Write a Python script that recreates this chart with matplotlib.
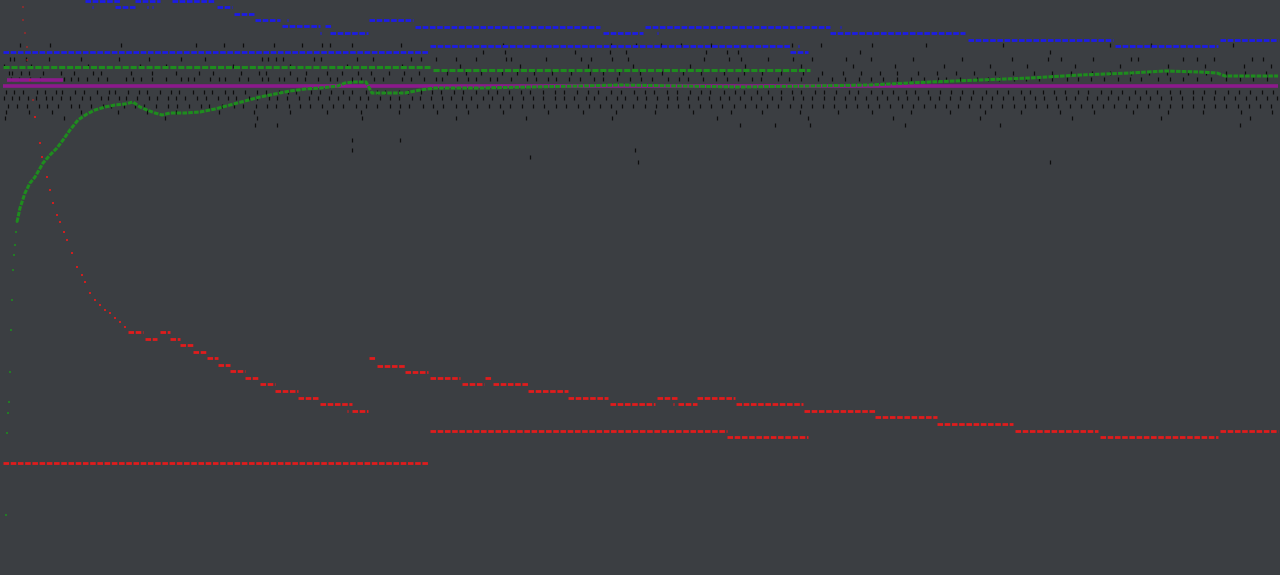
import numpy as np
import matplotlib
matplotlib.use('Agg')
import matplotlib.pyplot as plt

# x = training step (0..1280), y = row position of the metric (0 = top)

# Run B, blue step series: start, end, level
blue_b_start = [85, 135, 172, 92, 115, 147, 152, 217, 234, 255, 287, 282, 325, 320, 330, 369, 415, 603, 657, 645, 840,
                830, 968, 1115, 1220]
blue_b_end = [120, 160, 215, 93, 135, 148, 153, 232, 255, 280, 288, 320, 332, 321, 368, 413, 600, 643, 658, 830, 841,
              965, 1113, 1218, 1278]
blue_b_level = [1, 1, 1, 7, 7, 7, 7, 7, 14, 20, 20, 26, 26, 33, 33, 20, 27, 33, 33, 27, 27, 33, 40, 46, 40]

# Run A, blue steps
blue_a_start = [3, 430, 798, 790]
blue_a_end = [428, 790, 799, 808]
blue_a_level = [52, 46, 46, 52]

# Run A, green and red (flat)
green_a_start = [3, 433]
green_a_end = [430, 810]
green_a_level = [67, 70]

red_a_start = [3, 430, 727]
red_a_end = [428, 727, 808]
red_a_level = [463, 431, 437]

# Purple
purple_start = [3, 7]
purple_end = [1278, 63]
purple_level = [86, 80]

# Run B, green: first sparse points, then the curve
green_b_early_x = [6, 7, 8, 9, 10, 11, 12, 13, 14, 15, 16, 17]
green_b_early_y = [515, 433, 413, 402, 372, 330, 300, 270, 255, 245, 232, 222]

green_b_x = [17, 20, 25, 30, 35, 43, 50, 57, 63, 70, 78, 87, 95, 105, 115, 125, 133, 140, 147, 155, 162,
             170, 185, 200, 215, 230, 245, 260, 275, 290, 305, 320, 338, 345, 355, 366, 372, 390, 405, 420, 435, 480,
             530, 580, 620, 680, 740, 810, 870, 930, 980, 1030, 1080, 1130, 1165, 1200, 1217, 1225, 1278]
green_b_y = [222, 208, 193, 183, 177, 163, 155, 148, 140, 130, 120, 114, 110, 107, 105, 104, 102, 107,
             110, 113, 115, 113, 113, 112, 109, 105, 101, 97, 94, 91, 89, 88, 86, 83, 82, 82, 93, 93, 93, 90, 88, 88,
             87, 86, 85, 86, 87, 86, 85, 82, 80, 78, 75, 73, 71, 72, 73, 76, 76]

# Run B, red curve: faint first points, then the decay, then steps
red_b_faint_x = [23, 23, 25, 27, 27, 30, 33]
red_b_faint_y = [7, 20, 33, 47, 60, 80, 100]

red_b_x = [35, 40, 42, 47, 50, 53, 57, 60, 64, 67, 72, 77, 82, 85, 90, 95, 100, 105, 110, 115, 120, 125]
red_b_y = [117, 143, 157, 177, 190, 203, 215, 222, 232, 240, 253, 267, 275, 282, 293, 300, 305, 310, 313, 318, 322,
           327]

red_b_start = [128, 145, 160, 170, 180, 193, 207, 218, 230, 245, 260, 275, 298, 320, 347, 352, 369, 377, 405, 430, 462,
               485, 493, 528, 568, 610, 657, 673, 678, 697, 736, 804, 875, 937, 1015, 1100, 1220]
red_b_end = [143, 157, 170, 180, 193, 207, 218, 230, 245, 258, 275, 298, 318, 352, 348, 368, 376, 405, 428, 460, 484,
             492, 528, 568, 608, 655, 677, 674, 697, 735, 803, 875, 937, 1013, 1098, 1218, 1278]
red_b_level = [332, 339, 332, 339, 345, 352, 358, 365, 371, 378, 384, 391, 398, 404, 411, 411, 358, 366, 372, 378, 384,
               378, 384, 391, 398, 404, 398, 404, 404, 398, 404, 411, 417, 424, 431, 437, 431]

# Event ticks, one list per row
tick_rows = {
    45: [20, 50, 121, 196, 224, 243, 274, 302, 322, 330, 352, 401, 503, 611, 636, 661, 681, 711, 792, 821, 872, 926,
         1003, 1110, 1151, 1233],
    52: [483, 505, 575, 610, 626, 706, 727, 738, 860, 1050],
    59: [10, 14, 26, 49, 81, 119, 149, 181, 205, 262, 268, 276, 283, 314, 321, 357, 373, 411, 421, 436, 456, 476, 506,
         511, 546, 581, 591, 612, 628, 704, 729, 741, 768, 793, 812, 846, 871, 913, 962, 1012, 1048, 1061, 1093, 1131,
         1138, 1183, 1197, 1214, 1252, 1263],
    66: [4, 31, 88, 140, 166, 233, 290, 347, 402, 460, 520, 588, 633, 690, 745, 801, 853, 895, 944, 990, 1027, 1075,
         1120, 1168, 1205, 1244, 1271],
    73: [9, 12, 21, 29, 43, 61, 74, 93, 101, 131, 152, 176, 199, 213, 241, 259, 266, 290, 306, 327, 342, 358, 371, 389,
         404, 419, 447, 466, 481, 502, 517, 534, 552, 571, 590, 603, 619, 640, 662, 683, 701, 724, 744, 762, 781, 803,
         822, 843, 861, 880, 897, 918, 937, 956, 974, 995, 1013, 1034, 1052, 1071, 1092, 1110, 1131, 1149, 1167, 1188,
         1206, 1226, 1245, 1266],
    79: [11, 19, 30, 40, 64, 71, 78, 87, 98, 107, 126, 133, 141, 152, 166, 181, 188, 194, 210, 219, 225, 239, 248, 262,
         268, 279, 284, 297, 305, 318, 330, 337, 352, 361, 374, 383, 402, 411, 424, 436, 442, 457, 468, 476, 490, 497,
         511, 527, 536, 548, 556, 569, 580, 594, 603, 617, 630, 641, 652, 668, 679, 688, 703, 716, 727, 738, 752, 761,
         778, 789, 801, 818, 832, 845, 859, 871, 883, 897, 911, 924, 938, 946, 960, 977, 988, 999, 1014, 1026, 1039,
         1052, 1067, 1078, 1091, 1104, 1118, 1130, 1141, 1158, 1170, 1183, 1197, 1211, 1226, 1240, 1253, 1267],
    92: [6, 14, 23, 37, 45, 56, 62, 75, 84, 97, 109, 115, 128, 139, 147, 160, 171, 179, 193, 204, 212, 225, 233, 245,
         257, 266, 279, 288, 296, 311, 320, 331, 343, 352, 366, 377, 385, 399, 408, 421, 432, 441, 454, 463, 476, 488,
         497, 509, 521, 530, 543, 555, 564, 577, 588, 598, 611, 621, 634, 645, 654, 667, 677, 690, 701, 710, 724, 735,
         744, 757, 768, 781, 792, 801, 815, 824, 836, 849, 858, 871, 882, 893, 906, 915, 928, 940, 951, 962, 973, 986,
         997, 1008, 1021, 1030, 1043, 1054, 1065, 1078, 1088, 1101, 1111, 1122, 1135, 1146, 1157, 1170, 1180, 1193,
         1204, 1215, 1228, 1239, 1250, 1262, 1273],
    98: [4, 12, 19, 28, 36, 46, 52, 61, 70, 82, 90, 101, 108, 119, 126, 137, 149, 157, 168, 176, 185, 197, 206, 218,
         228, 236, 249, 257, 269, 277, 287, 299, 309, 318, 329, 338, 349, 360, 368, 380, 390, 399, 412, 420, 431, 442,
         451, 462, 471, 483, 492, 503, 512, 523, 533, 543, 555, 564, 574, 586, 594, 606, 617, 625, 637, 646, 657, 668,
         677, 688, 698, 709, 720, 729, 740, 751, 761, 772, 781, 793, 803, 812, 824, 834, 845, 855, 866, 877, 887, 898,
         907, 918, 930, 939, 950, 960, 971, 982, 992, 1003, 1013, 1024, 1035, 1044, 1056, 1066, 1075, 1087, 1097, 1108,
         1118, 1129, 1140, 1150, 1161, 1171, 1182, 1193, 1202, 1214, 1224, 1235, 1246, 1256, 1267, 1277],
    106: [8, 17, 27, 39, 47, 58, 71, 79, 91, 103, 111, 124, 135, 144, 156, 168, 177, 189, 201, 209, 222, 234, 243, 256,
          267, 276, 289, 300, 310, 322, 333, 343, 356, 366, 377, 390, 400, 409, 423, 433, 443, 456, 466, 477, 489, 500,
          510, 522, 533, 544, 556, 566, 578, 589, 600, 611, 622, 633, 645, 656, 667, 678, 689, 700, 711, 722, 734, 745,
          756, 767, 778, 790, 801, 812, 823, 834, 846, 857, 868, 879, 890, 902, 913, 924, 935, 946, 958, 969, 980, 991,
          1002, 1014, 1025, 1036, 1047, 1058, 1070, 1081, 1092, 1103, 1114, 1126, 1137, 1148, 1159, 1170, 1182, 1193,
          1204, 1215, 1226, 1238, 1249, 1260, 1271],
    112: [6, 29, 52, 81, 118, 147, 176, 219, 254, 290, 327, 361, 399, 437, 468, 503, 548, 583, 616, 655, 693, 731,
          762, 800, 838, 872, 911, 950, 985, 1021, 1060, 1094, 1133, 1168, 1203, 1241, 1272],
    118: [5, 64, 165, 257, 362, 456, 526, 612, 717, 808, 893, 980, 1072, 1161, 1250],
    125: [255, 277, 740, 775, 810, 905, 1000, 1240],
    140: [400, 352],
    150: [352, 635],
    157: [530],
    162: [638, 1050],
}

bg = '#3b3e42'
blue = '#1c1ce6'
green = '#1e8c1e'
red = '#e01c1c'
purple = '#8c1a8c'
dash = (0, (2.0, 0.6))

dpi = 100
fig = plt.figure(figsize=(1280 / dpi, 575 / dpi), dpi=dpi)
fig.patch.set_facecolor(bg)
ax = fig.add_axes([0, 0, 1, 1])
ax.set_xlim(0, 1280)
ax.set_ylim(575, 0)
ax.axis('off')

# black event ticks
for row, xs in tick_rows.items():
    ax.plot(xs, [row] * len(xs), linestyle='none', marker='|', ms=3.2, mew=0.9, color='#0d0d0d')

# flat / step series
ax.hlines(purple_level, purple_start, purple_end, colors=purple, linewidth=2.6)
ax.hlines(green_a_level, green_a_start, green_a_end, colors=green, linewidth=2.2, linestyles=dash)
ax.hlines(blue_a_level, blue_a_start, blue_a_end, colors=blue, linewidth=2.0, linestyles=dash)
ax.hlines(blue_b_level, blue_b_start, blue_b_end, colors=blue, linewidth=2.0, linestyles=dash)
ax.hlines(red_a_level, red_a_start, red_a_end, colors=red, linewidth=2.0, linestyles=dash)
ax.hlines(red_b_level, red_b_start, red_b_end, colors=red, linewidth=2.0, linestyles=dash)

# curves
ax.plot(green_b_x, green_b_y, color=green, linewidth=2.2, linestyle=(0, (1.5, 0.4)))
ax.plot(green_b_early_x, green_b_early_y, linestyle='none', marker='s', ms=1.8, mew=0, color=green, alpha=0.8)
ax.plot(red_b_faint_x, red_b_faint_y, linestyle='none', marker='s', ms=1.6, mew=0, color=red, alpha=0.45)
ax.plot(red_b_x, red_b_y, linestyle='none', marker='s', ms=1.8, mew=0, color=red, alpha=0.9)

fig.savefig('out.png', dpi=dpi, facecolor=bg)
